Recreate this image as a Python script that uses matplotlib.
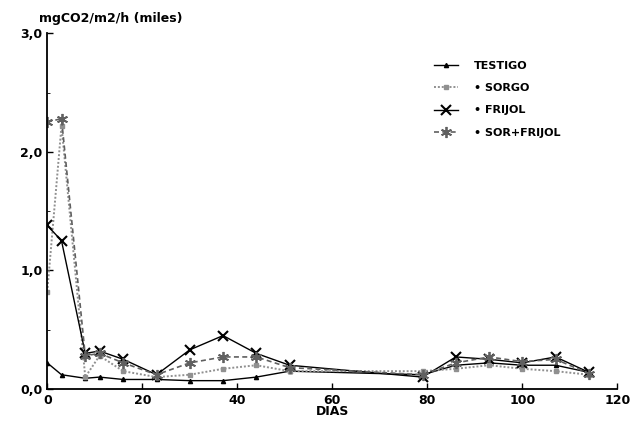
import matplotlib
matplotlib.use("Agg")
import matplotlib.pyplot as plt

# days of sampling and CO2 flux (thousands of mg CO2/m2/h)
dias = [0, 3, 8, 11, 16, 23, 30, 37, 44, 51, 79, 86, 93, 100, 107, 114]
testigo = [0.22, 0.12, 0.09, 0.10, 0.08, 0.08, 0.07, 0.07, 0.10, 0.15, 0.12, 0.20, 0.22, 0.20, 0.20, 0.14]
sorgo = [0.82, 2.22, 0.10, 0.28, 0.15, 0.10, 0.12, 0.17, 0.20, 0.15, 0.15, 0.17, 0.20, 0.17, 0.15, 0.12]
frijol = [1.38, 1.25, 0.30, 0.32, 0.25, 0.12, 0.33, 0.45, 0.30, 0.20, 0.10, 0.27, 0.25, 0.22, 0.27, 0.14]
sor_frijol = [2.25, 2.28, 0.28, 0.30, 0.22, 0.12, 0.22, 0.27, 0.27, 0.18, 0.12, 0.22, 0.27, 0.23, 0.25, 0.13]

xticks = [0, 20, 40, 60, 80, 100, 120]
yticks = [0.0, 1.0, 2.0, 3.0]
ylabels = ["0,0", "1,0", "2,0", "3,0"]

fig = plt.figure(figsize=(6.3, 4.43), dpi=100)
ax = fig.add_axes([0.075, 0.122, 0.905, 0.803])

ax.plot(dias, testigo, color="black", lw=1.0, marker="^", ms=3, label="TESTIGO")
ax.plot(dias, sorgo, color="#909090", lw=1.4, ls=(0, (1, 1)), marker="s", ms=3.5,
        label="• SORGO")
ax.plot(dias, frijol, color="black", lw=1.0, marker="x", ms=7, mew=1.5, label="• FRIJOL")
ax.plot(dias, sor_frijol, color="#606060", lw=1.2, ls=(0, (3, 2)), marker=(6, 2, 0), ms=8,
        mew=1.3, label="• SOR+FRIJOL")

ax.set_xlim(0, 120)
ax.set_ylim(0, 3.0)
ax.set_xticks(xticks)
ax.set_xticklabels([str(t) for t in xticks], fontsize=9, fontweight="bold")
ax.set_yticks(yticks)
ax.set_yticklabels(ylabels, fontsize=9, fontweight="bold")
ax.set_yticks([0.5, 1.5, 2.5], minor=True)
ax.tick_params(direction="in", length=4, width=1)
ax.tick_params(which="minor", direction="in", length=2)
ax.spines["top"].set_visible(False)
ax.spines["right"].set_visible(False)
ax.spines["left"].set_linewidth(1.3)
ax.spines["bottom"].set_linewidth(1.3)

ax.set_xlabel("DIAS", fontsize=9, fontweight="bold", labelpad=-1)
fig.text(0.062, 0.958, "mgCO2/m2/h (miles)", fontsize=9, fontweight="bold", va="center")

ax.legend(loc="upper left", bbox_to_anchor=(0.66, 0.95), frameon=False,
          handlelength=2.2, handletextpad=1.4, labelspacing=1.1,
          prop={"weight": "bold", "size": 8})

plt.savefig("out.png", dpi=100)
